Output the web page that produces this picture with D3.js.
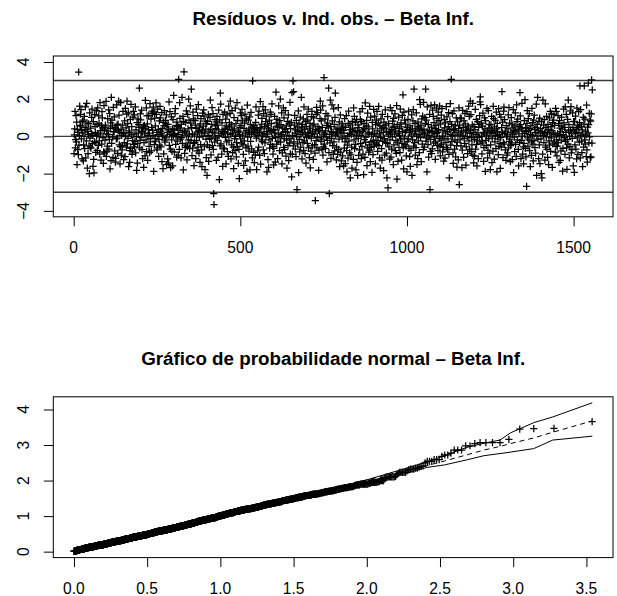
<!DOCTYPE html>
<html><head><meta charset="utf-8">
<script src="https://cdn.jsdelivr.net/npm/d3@7"></script>
<style>body{margin:0;background:#fff}svg text{font-family:"Liberation Sans",Arial,Helvetica,sans-serif;fill:#000}</style>
</head><body><svg id="c" width="617" height="596"></svg>
<script>
const residuals = [
-0.93,0.08,0.41,1.35,-0.62,-0.17,1.12,-0.29,0.77,-1.52,
0.36,-0.71,0.22,-0.98,3.46,-0.47,0.05,1.63,0.55,1.19,
0.59,1.44,-0.13,0.33,-1.21,0.81,0.19,0.88,-1.31,-0.45,
0.02,1.08,-0.66,0.49,1.58,-1.15,0.38,-0.24,1.77,0.73,
-1.70,0.27,-0.92,0.11,0.68,-0.51,-2.00,1.27,-0.09,-0.57,
0.44,-0.63,0.15,1.02,1.47,-0.39,0.07,-1.61,0.80,-1.24,
-1.96,-0.28,1.17,0.54,0.21,-0.86,-0.34,1.39,0.03,0.64,
-0.75,1.53,0.12,-0.48,1.10,0.70,-0.24,-0.95,1.82,0.31,
0.18,-1.27,0.58,-0.42,1.33,0.99,0.46,-0.06,-1.45,-0.83,
1.66,0.35,-0.89,-0.20,0.61,0.50,1.88,-1.07,0.14,-0.79,
-0.52,0.96,0.29,0.10,1.42,-0.68,-0.16,1.22,-1.74,0.43,
0.73,-1.30,2.10,-0.37,0.87,0.57,-0.04,-1.13,1.56,0.26,
0.24,1.05,-0.78,0.47,-1.38,-1.18,0.40,-0.13,1.69,0.62,
-0.09,-0.91,0.66,0.32,1.90,1.14,-0.45,0.21,-1.48,-0.55,
1.81,0.38,-1.00,0.06,-0.72,-0.49,0.60,1.35,0.19,-1.25,
0.15,-0.33,0.84,-1.09,1.50,0.02,0.46,-0.58,1.20,1.90,
-0.40,0.69,-0.11,1.26,-1.62,0.30,0.20,-1.40,-0.76,0.92,
-0.65,1.72,0.08,0.52,-0.97,-0.79,-0.23,1.03,1.34,-0.43,
0.12,1.16,-0.56,-0.28,1.59,-0.88,0.35,-0.01,-1.83,0.74,
-1.44,-0.39,0.94,0.17,0.63,0.48,2.59,-0.62,-0.22,1.21,
0.89,-0.07,0.27,1.41,-0.71,0.23,-1.19,0.45,0.55,-1.66,
-0.34,0.60,0.14,-1.04,1.93,0.41,-0.19,1.53,-0.82,1.10,
0.67,-1.29,0.04,0.36,1.13,-0.54,0.17,-0.87,1.76,-0.30,
-0.10,0.93,-0.78,0.49,1.36,1.24,0.32,0.06,1.57,-1.88,
1.31,-0.44,0.98,-0.12,0.57,-0.26,1.80,1.18,0.21,-0.73,
-0.61,1.46,0.09,0.38,-1.07,-0.16,0.83,-0.47,1.62,0.99,
0.29,-0.56,0.13,1.28,-1.35,0.42,0.03,-1.73,0.76,-0.94,
0.58,1.39,-0.20,-0.31,0.86,0.71,-0.08,1.15,-1.52,0.51,
0.22,-1.21,0.64,0.35,-1.44,1.85,-0.48,0.11,1.33,-0.68,
-1.68,0.27,1.05,-0.18,-0.80,0.40,-1.58,0.90,0.05,2.20,
0.36,-0.84,0.16,1.23,1.49,-0.43,-0.02,0.59,-1.11,0.77,
-0.25,0.53,0.10,-1.01,3.07,0.33,-0.70,1.82,0.97,-0.14,
0.45,-1.16,0.65,-0.06,2.10,-0.38,0.20,1.07,-1.80,0.81,
3.47,0.30,-0.91,0.24,-0.60,0.74,-0.47,1.37,0.07,-1.26,
-0.55,1.19,0.41,-0.19,2.00,0.88,0.13,-0.66,-0.35,1.64,
0.71,-0.21,2.54,0.47,-1.03,0.12,-0.63,1.30,0.94,-0.37,
-1.57,0.08,-0.32,0.85,0.61,-1.20,0.43,1.47,-0.23,-0.78,
0.19,1.12,-0.57,1.71,0.28,-0.90,-0.04,0.50,-1.39,0.67,
-0.44,0.96,0.23,-0.73,-1.62,0.34,1.25,0.01,0.55,1.42,
1.09,-0.52,0.18,-1.78,0.82,0.39,-0.14,-1.14,0.69,-2.09,
-0.46,0.81,0.06,1.17,-1.34,0.28,-0.59,-0.15,1.02,1.95,
0.38,-0.99,-0.11,0.64,1.55,-0.49,0.22,1.23,-0.70,-3.07,
-3.66,0.17,-0.31,0.90,0.56,-0.08,0.42,-1.29,0.78,1.08,
-0.22,0.60,-1.13,0.35,1.41,0.04,-2.32,0.89,-0.51,2.32,
1.74,-0.40,0.13,-0.95,0.73,0.27,-1.61,1.19,-0.63,0.20,
0.25,-0.67,1.31,0.44,-0.05,0.93,-1.48,0.57,-0.30,1.16,
-0.82,0.14,0.37,-1.07,1.63,-0.21,0.74,0.51,1.24,1.90,
0.09,-1.21,0.62,-0.45,1.38,0.18,-0.87,0.32,-0.58,-1.73,
1.01,0.41,-0.12,-0.76,1.52,0.02,0.69,-1.10,-0.34,1.81,
-0.55,0.86,0.21,-1.45,0.29,-0.70,-2.27,0.11,0.48,1.27,
-0.13,0.58,1.12,-0.36,1.45,0.83,0.07,-0.46,-0.96,-1.56,
0.43,-0.24,0.71,1.20,-1.32,0.17,-0.61,0.94,0.30,-1.88,
1.68,-0.04,-0.52,0.88,0.34,-0.79,0.20,1.05,-1.80,0.63,
-0.27,1.29,0.11,-0.67,0.50,-1.16,2.98,0.42,0.23,-0.86,
0.56,-1.41,0.38,0.14,-0.99,0.75,1.58,-0.09,-1.78,0.47,
0.31,-0.78,0.05,1.14,-0.58,1.36,0.22,-1.02,0.47,1.87,
-1.49,0.40,-0.19,0.66,0.97,-0.28,0.08,1.60,-0.72,1.22,
0.16,-0.92,0.52,-0.35,1.43,0.80,-0.02,1.09,0.26,-1.90,
0.60,0.12,-1.25,0.45,-1.66,-0.18,0.87,-0.63,0.33,1.31,
-0.43,1.18,0.69,0.24,1.75,-0.10,-0.54,-0.95,0.37,-1.53,
-0.65,0.19,1.08,0.34,-1.38,-0.06,2.38,0.73,-0.42,0.91,
0.55,-1.19,-0.27,0.14,1.64,0.49,0.85,-0.77,-0.03,2.00,
-0.31,0.63,0.10,1.26,-1.47,-0.88,0.44,0.21,1.53,-0.59,
1.00,-0.12,-0.71,0.38,1.39,0.27,-1.06,0.57,-0.20,-1.71,
0.23,0.81,-0.48,1.15,-1.30,0.04,0.67,-0.36,1.83,-0.94,
0.42,-0.13,0.76,-2.17,2.35,-0.97,0.06,2.98,-0.51,2.40,
-0.29,0.60,1.13,0.18,-0.68,0.35,-1.09,0.86,-0.02,-2.86,
0.51,-0.40,0.25,1.37,-1.95,0.72,-0.16,-0.83,0.31,1.04,
-0.57,0.09,2.10,0.46,-1.21,0.64,0.21,-0.33,0.94,-0.75,
1.58,-0.24,0.39,-0.92,0.13,0.80,-1.44,0.54,-0.07,1.18,
-0.37,0.88,0.20,1.46,-0.62,0.03,-1.14,0.45,0.70,-1.69,
0.29,-0.79,-0.09,1.06,1.34,-0.51,0.16,0.57,-1.23,0.99,
0.66,0.12,-0.44,-0.90,-3.45,0.38,-0.23,1.19,1.56,-0.61,
-0.05,1.28,0.53,0.32,-1.82,-0.74,0.41,0.24,0.95,1.90,
1.41,-0.27,0.83,-0.15,-0.68,0.48,1.64,-1.01,0.08,-0.56,
3.16,-0.42,0.17,0.93,-0.66,0.30,1.22,-0.04,0.59,-1.37,
-0.21,0.72,1.10,0.46,2.59,-0.87,-3.07,0.11,-0.35,1.95,
0.52,-1.18,0.26,-0.10,1.70,0.83,-0.49,0.19,-0.96,1.48,
-0.30,0.64,-0.78,1.02,2.32,0.07,0.39,-1.26,-0.58,0.23,
0.13,-0.97,0.44,1.55,-0.70,-0.15,0.78,-1.63,0.34,1.15,
-0.84,0.22,-1.31,0.40,0.67,-0.08,-1.05,0.55,0.33,-1.59,
0.18,-0.63,0.95,-0.29,-1.46,0.49,-0.12,1.11,-0.77,-1.90,
-0.47,0.03,-1.17,0.70,1.36,-0.26,0.15,-0.89,0.60,-2.23,
0.37,-0.99,0.09,-0.57,-1.71,0.81,0.44,0.24,-1.24,1.53,
-0.19,1.08,-0.66,0.31,0.74,-0.43,-1.80,0.06,0.92,-1.40,
0.28,-2.10,0.62,-0.11,-1.02,0.47,0.19,-0.72,1.32,0.90,
-0.38,0.05,-1.20,0.79,-0.53,1.49,0.25,-0.95,0.35,-2.05,
0.69,-0.17,0.42,-1.13,1.80,-0.32,-0.04,0.57,0.86,-1.57,
-0.61,1.25,0.14,0.51,-0.84,0.21,-0.46,1.62,-0.74,-1.36,
1.04,-0.28,-0.59,0.09,-1.93,0.76,0.40,-0.98,-0.22,1.45,
-0.54,0.16,1.09,-0.35,-1.48,0.63,0.02,0.88,-0.43,1.34,
0.30,-0.81,-0.21,0.71,1.61,-0.49,0.13,-1.16,0.58,-1.70,
-0.06,0.94,0.40,-0.66,-1.28,1.18,-0.27,0.50,0.20,-1.84,
0.77,-0.12,-1.00,0.45,1.42,-0.33,0.61,-0.90,0.24,-2.23,
-0.37,1.06,-2.77,0.08,0.68,-0.56,0.27,-1.22,-0.18,1.54,
0.19,-1.11,0.36,-0.69,1.39,-0.03,0.82,0.48,-1.52,0.97,
-0.46,0.55,0.12,1.21,-0.77,0.29,-0.22,-0.91,1.66,-2.30,
0.64,-0.31,-1.34,0.17,1.03,-0.59,0.42,0.05,-0.87,1.47,
-0.14,0.73,0.51,-1.27,-0.38,1.13,0.26,2.23,-0.62,-1.75,
1.31,-0.09,0.87,-0.44,0.21,0.66,-0.52,-1.05,0.34,-1.90,
-0.28,0.47,0.91,-0.13,1.36,-0.64,0.22,-1.08,0.56,-1.61,
0.35,-0.75,0.08,1.16,-2.10,0.41,-0.19,0.84,1.44,-0.52,
2.54,0.14,-0.33,0.69,-1.00,0.28,-0.60,1.26,0.01,-1.51,
0.45,-1.19,0.77,-0.24,0.53,0.10,-0.87,1.97,0.38,1.72,
-0.06,0.61,-1.35,0.94,0.31,-0.42,1.09,0.18,-0.71,1.83,
0.39,-0.57,0.12,1.01,0.70,2.54,-0.26,0.88,-0.08,-1.90,
1.58,0.23,-0.44,0.63,-1.12,0.05,0.32,1.19,-2.86,-0.80,
-0.16,1.67,0.50,-0.92,0.27,-0.67,1.41,0.19,1.07,-0.36,
0.74,-0.04,1.70,0.43,-1.23,-0.29,0.59,0.15,1.52,0.97,
-0.48,0.21,-0.76,1.31,0.36,0.85,-0.11,1.63,-0.55,-1.04,
0.66,-0.20,1.14,-0.41,1.49,0.02,-0.83,0.30,-0.58,-1.33,
-0.09,0.92,0.46,-1.17,0.73,0.17,-0.34,1.60,-0.62,1.05,
0.25,-0.71,-0.13,0.52,1.28,-0.96,-2.23,0.37,0.80,1.76,
-0.47,0.11,3.07,0.64,-0.27,1.22,0.04,-0.89,-1.45,0.40,
1.37,0.33,-0.69,-0.18,0.57,-1.10,0.21,0.99,-0.50,-1.65,
-0.31,0.78,0.07,-1.26,0.42,1.53,-2.59,0.60,-0.19,1.00,
0.14,-0.51,0.96,0.28,-1.68,-0.74,1.40,0.03,0.49,-1.13,
0.84,-0.11,-0.38,1.22,0.67,0.23,-1.55,-0.56,0.35,1.33,
-0.01,-0.93,0.55,0.45,1.63,-0.24,1.08,-0.70,0.16,1.90,
0.31,1.17,-0.81,-0.07,-0.45,0.62,1.78,-1.02,0.20,-1.42,
0.53,-0.16,-1.06,0.36,1.45,-0.68,0.10,0.91,-0.43,-1.59,
-0.24,0.80,0.19,-1.20,0.48,0.65,-0.05,1.11,1.86,2.12,
1.71,-0.36,0.71,0.02,-0.94,-0.29,0.55,1.25,0.22,-1.34,
-0.60,0.13,0.99,0.41,-1.88,0.85,-0.21,-0.50,0.07,1.51,
0.30,-1.15,-0.75,1.38,-0.12,0.44,0.64,-0.90,0.18,-1.79,
-0.45,0.62,0.23,1.07,-1.41,-0.09,0.34,-0.79,1.62,0.95,
0.17,-1.22,0.51,-0.30,0.86,0.04,-0.66,1.30,0.40,-1.90,
0.70,0.26,-0.14,-0.98,1.49,-0.53,0.11,1.18,-0.39,-1.72,
-0.06,1.03,-0.58,0.47,2.41,0.20,0.77,-1.14,-0.33,1.36,
1.57,-0.41,0.90,0.15,-0.73,0.28,-1.29,0.58,-0.02,-1.01,
0.08,-0.89,0.40,1.16,-0.61,1.54,-0.27,0.72,-0.15,-1.35,
-0.50,0.21,1.01,-0.35,0.66,-1.25,0.12,0.46,1.44,-1.95,
0.31,-0.04,-0.82,0.57,1.26,-0.43,0.24,-1.07,1.69,0.79,
-0.18,0.93,0.37,-0.70,-1.58,0.14,0.52,-0.32,2.35,1.10,
0.63,-1.19,-0.22,0.44,1.77,0.01,-0.95,0.29,-0.56,-1.47,
-0.37,0.85,0.16,1.97,-0.64,0.47,-1.10,0.26,-2.68,0.70,
1.39,-0.08,-0.52,0.96,0.33,-0.19,1.23,-0.77,0.42,-1.62,
0.11,0.58,-1.02,-0.29,1.50,0.05,0.74,-0.41,-1.31,0.88,
-0.23,1.14,0.37,-0.60,0.20,-0.90,0.49,1.73,-2.10,0.03,
0.64,2.10,-0.14,0.30,-1.20,0.81,-0.45,0.98,-1.46,0.18,
0.42,-0.13,-2.00,0.79,-2.23,0.27,-0.95,1.95,0.06,0.61,
-0.34,0.90,0.17,-1.27,1.75,-0.57,0.48,-0.02,1.08,-0.70,
0.22,-1.13,0.65,0.38,-1.52,-0.24,1.00,-0.47,0.12,1.34,
-0.81,0.53,-0.08,1.21,0.31,-1.66,0.74,-0.40,0.19,0.87,
1.17,-0.29,0.59,0.09,-0.85,1.50,-0.53,1.35,-0.18,-1.04,
-0.52,0.14,1.12,-0.33,0.68,-1.40,0.04,0.85,0.45,-1.29,
0.26,-0.78,-0.20,1.03,0.57,0.39,-1.87,-0.64,0.10,1.46,
0.73,-0.06,0.49,-0.96,1.59,-0.28,0.21,1.19,-0.62,-1.77,
-0.17,0.92,-0.42,1.95,0.30,0.63,-1.15,0.02,-0.55,1.37,
0.35,1.60,-0.89,0.18,-0.71,-0.11,1.26,0.48,-1.58,0.80,
0.29,-1.93,0.81,-0.45,0.15,1.09,-0.68,0.38,-1.21,1.52,
-0.08,0.60,-0.96,0.47,1.33,0.22,-0.31,0.74,2.72,-1.16,
1.44,0.04,0.54,-0.26,-0.87,0.35,-1.62,0.12,1.02,-0.58,
0.66,2.72,-0.19,0.93,-0.41,0.28,0.07,-1.08,1.68,-0.72,
-1.38,0.50,0.19,2.86,0.63,-0.35,1.24,-0.02,0.88,-1.14,
0.82,-1.10,1.21,3.04,-0.36,2.50
];
const indexTicks = [0, 500, 1000, 1500];
const residYLim = [-4, 4];
const residTicks = [-4, -2, 0, 2, 4];
const refLines = [-3, 0, 3];

// half-normal plot: simulated envelope
const envX      = [0.00, 0.50, 1.00, 1.50, 1.53, 1.78, 1.86, 2.00, 2.23, 2.41, 2.53, 2.68, 2.80, 2.91, 2.98, 3.14, 3.27, 3.54];
const envUpper  = [0.03, 0.55, 1.05, 1.54, 1.62, 1.74, 1.86, 2.02, 2.30, 2.52, 2.70, 2.93, 3.05, 3.14, 3.34, 3.63, 3.79, 4.19];
const envMedian = [0.00, 0.51, 1.01, 1.50, 1.53, 1.79, 1.88, 2.02, 2.25, 2.42, 2.55, 2.72, 2.86, 2.96, 3.04, 3.20, 3.36, 3.68];
const envLower  = [0.00, 0.48, 0.97, 1.45, 1.48, 1.72, 1.80, 1.93, 2.16, 2.37, 2.44, 2.58, 2.70, 2.76, 2.80, 2.90, 3.14, 3.25];
const hnpXTicks = [0, 0.5, 1, 1.5, 2, 2.5, 3, 3.5];
const hnpYTicks = [0, 1, 2, 3, 4];

const titleTop = "Resíduos v. Ind. obs. – Beta Inf.";
const titleBottom = "Gráfico de probabilidade normal – Beta Inf.";

// ---------------------------------------------------------------
function qnorm(p){
  const a=[-3.969683028665376e+01,2.209460984245205e+02,-2.759285104469687e+02,1.383577518672690e+02,-3.066479806614716e+01,2.506628277459239e+00];
  const b=[-5.447609879822406e+01,1.615858368580409e+02,-1.556989798598866e+02,6.680131188771972e+01,-1.328068155288572e+01];
  const c=[-7.784894002430293e-03,-3.223964580411365e-01,-2.400758277161838e+00,-2.549732539343734e+00,4.374664141464968e+00,2.938163982698783e+00];
  const d=[7.784695709041462e-03,3.224671290700398e-01,2.445134137142996e+00,3.754408661907416e+00];
  const pl=0.02425, ph=1-pl; let q,r;
  if(p<pl){q=Math.sqrt(-2*Math.log(p));return (((((c[0]*q+c[1])*q+c[2])*q+c[3])*q+c[4])*q+c[5])/((((d[0]*q+d[1])*q+d[2])*q+d[3])*q+1);}
  if(p<=ph){q=p-0.5;r=q*q;return (((((a[0]*r+a[1])*r+a[2])*r+a[3])*r+a[4])*r+a[5])*q/(((((b[0]*r+b[1])*r+b[2])*r+b[3])*r+b[4])*r+1);}
  q=Math.sqrt(-2*Math.log(1-p));return -(((((c[0]*q+c[1])*q+c[2])*q+c[3])*q+c[4])*q+c[5])/((((d[0]*q+d[1])*q+d[2])*q+d[3])*q+1);
}
const ext = (lo, hi) => { const D = hi - lo; return [lo - 0.04*D, hi + 0.04*D]; };
const fmtNeg = v => v < 0 ? "\u2212" + Math.abs(v) : String(v);

const svg = d3.select("#c");
svg.append("rect").attr("width",617).attr("height",596).attr("fill","#fff");
const L = 53.3, R = 613, H = 160.8, T1 = 56, T2 = 396.8;
const AX = 15.6, TK = 9.5, plusH = 3.6;

function plusPath(x, y){ return `M${x-plusH},${y}h${2*plusH}M${x},${y-plusH}v${2*plusH}`; }

function frame(top, xs, ys, xt, yt, xfmt, title){
  svg.append("text").attr("x",(L+R)/2).attr("y",top-31.5).attr("text-anchor","middle")
     .attr("font-weight","bold").attr("font-size",18.8).text(title);
  const gx = svg.append("g").attr("transform",`translate(0,${top+H})`)
     .call(d3.axisBottom(xs).tickValues(xt).tickSize(TK).tickFormat(""));
  gx.select(".domain").remove();
  gx.selectAll("line").attr("stroke","#000");
  svg.append("g").selectAll("text").data(xt).join("text")
     .attr("x", d=>xs(d)).attr("y", top+H+36).attr("text-anchor","middle")
     .attr("font-size",AX).text(xfmt);
  const gy = svg.append("g").attr("transform",`translate(${L},0)`)
     .call(d3.axisLeft(ys).tickValues(yt).tickSize(TK).tickFormat(""));
  gy.select(".domain").remove();
  gy.selectAll("line").attr("stroke","#000");
  svg.append("g").selectAll("text").data(yt).join("text")
     .attr("transform", d=>`translate(29.3,${ys(d)}) rotate(-90)`).attr("text-anchor","middle")
     .attr("font-size",AX).text(fmtNeg);
}

// ---------------- top panel ----------------
const n = residuals.length;
const x1 = d3.scaleLinear().domain(ext(1, n)).range([L, R]);
const y1 = d3.scaleLinear().domain(ext(residYLim[0], residYLim[1])).range([T1+H, T1]);
frame(T1, x1, y1, indexTicks, residTicks, d=>String(d), titleTop);
svg.append("g").selectAll("line").data(refLines).join("line")
   .attr("x1",L).attr("x2",R).attr("y1",d=>y1(d)).attr("y2",d=>y1(d))
   .attr("stroke","#3a3a3a").attr("stroke-width",1.4);
svg.append("g").attr("fill","none").attr("stroke","#000").attr("stroke-width",1.25)
   .selectAll("path").data(residuals).join("path")
   .attr("d",(d,i)=>plusPath(x1(i+1), y1(d)));
svg.append("rect").attr("x",L).attr("y",T1).attr("width",R-L).attr("height",H)
   .attr("fill","none").attr("stroke","#000").attr("stroke-width",1);

// ---------------- bottom panel ----------------
const absSorted = residuals.map(Math.abs).sort(d3.ascending);
const hq = absSorted.map((v,i)=>qnorm((i+1+n-1/8)/(2*n+0.5)));
const x2 = d3.scaleLinear().domain(ext(d3.min(hq), d3.max(hq.concat(envX.slice(-1))))).range([L, R]);
const ymax2 = d3.max(absSorted.concat(envUpper));
const y2 = d3.scaleLinear().domain(ext(0, ymax2)).range([T2+H, T2]);
frame(T2, x2, y2, hnpXTicks, hnpYTicks, d3.format(".1f"), titleBottom);
svg.append("g").attr("fill","none").attr("stroke","#000").attr("stroke-width",1.25)
   .selectAll("path").data(absSorted).join("path")
   .attr("d",(d,i)=>plusPath(x2(hq[i]), y2(d)));
const ln = arr => d3.line().x((d,i)=>x2(envX[i])).y(d=>y2(d))(arr);
svg.append("path").attr("d",ln(envUpper)).attr("fill","none").attr("stroke","#000").attr("stroke-width",1);
svg.append("path").attr("d",ln(envLower)).attr("fill","none").attr("stroke","#000").attr("stroke-width",1);
svg.append("path").attr("d",ln(envMedian)).attr("fill","none").attr("stroke","#000").attr("stroke-width",1).attr("stroke-dasharray","5,4");
svg.append("rect").attr("x",L).attr("y",T2).attr("width",R-L).attr("height",H)
   .attr("fill","none").attr("stroke","#000").attr("stroke-width",1);
</script></body></html>
